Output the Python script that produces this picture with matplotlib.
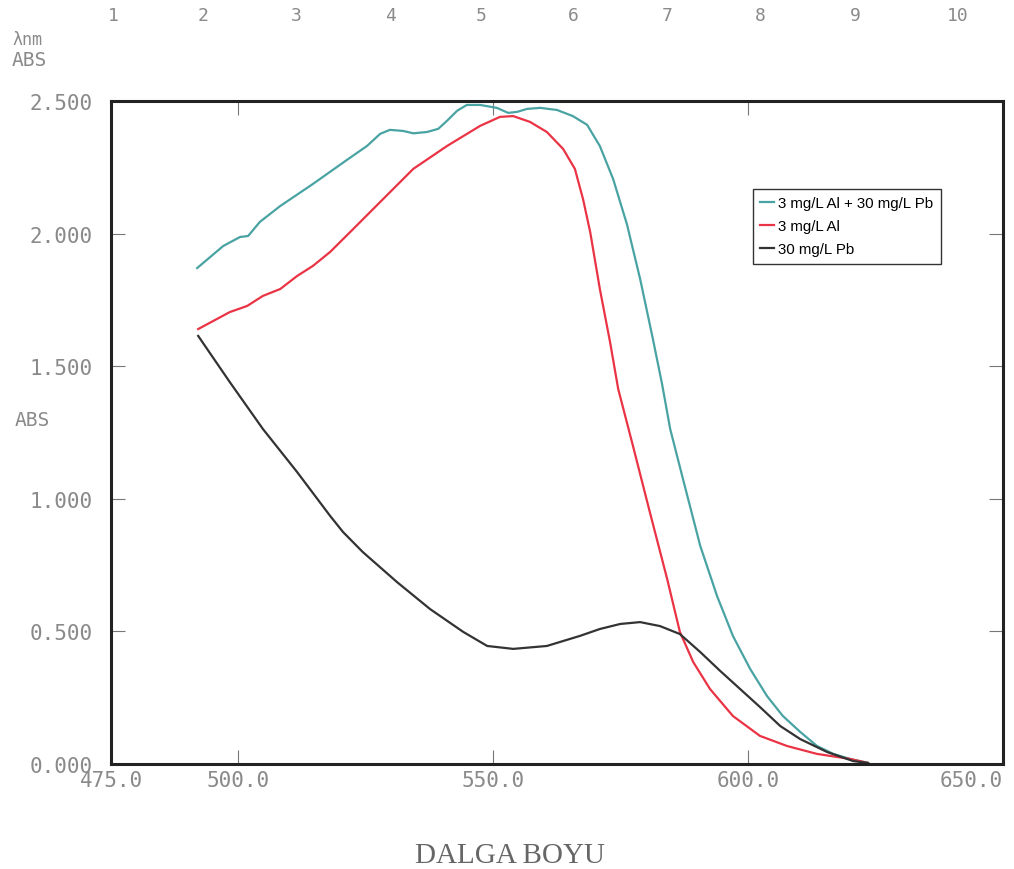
#!/usr/bin/env python3

import matplotlib
matplotlib.use("Agg")
import matplotlib.pyplot as plt

# wavelength (nm) / absorbance
nm_mix = [491.9, 497.0, 500.3, 501.9, 504.2, 508.2, 514.6, 521.3, 525.2, 527.8,
          529.7, 532.3, 534.3, 537.0, 539.2, 540.9, 542.9, 544.8, 547.4, 550.7,
          552.9, 554.7, 556.6, 559.2, 562.5, 565.6, 568.4, 570.9, 573.5, 576.2,
          578.8, 581.3, 583.1, 584.7, 587.2, 590.6, 593.9, 597.0, 600.4, 603.7,
          606.8, 610.2, 613.5, 616.7, 620.0, 623.5]
abs_mix = [1.870, 1.953, 1.987, 1.991, 2.044, 2.104, 2.187, 2.278, 2.330, 2.376,
           2.391, 2.387, 2.378, 2.383, 2.395, 2.425, 2.463, 2.485, 2.485, 2.474,
           2.455, 2.459, 2.470, 2.474, 2.466, 2.443, 2.410, 2.330, 2.206, 2.036,
           1.829, 1.603, 1.433, 1.263, 1.075, 0.822, 0.633, 0.483, 0.358, 0.256,
           0.181, 0.121, 0.068, 0.038, 0.019, 0.004]

nm_al = [492.1, 498.3, 501.7, 504.8, 508.2, 511.5, 514.6, 518.0, 522.5, 527.8,
         534.3, 540.9, 547.4, 551.3, 553.9, 557.2, 560.5, 563.7, 566.0, 567.6,
         569.0, 570.9, 572.9, 574.5, 577.4, 580.7, 584.1, 586.6, 589.2, 592.5,
         597.0, 602.3, 607.6, 613.5, 620.0, 623.5]
abs_al = [1.640, 1.704, 1.727, 1.765, 1.791, 1.840, 1.878, 1.931, 2.017, 2.119,
          2.244, 2.330, 2.406, 2.440, 2.443, 2.421, 2.383, 2.319, 2.244, 2.130,
          2.006, 1.791, 1.591, 1.414, 1.199, 0.950, 0.698, 0.498, 0.385, 0.283,
          0.181, 0.106, 0.068, 0.038, 0.019, 0.004]

nm_pb = [492.1, 498.3, 504.8, 511.5, 518.0, 520.5, 524.4, 531.1, 537.6, 544.1,
         548.8, 553.9, 560.5, 567.0, 570.9, 574.9, 578.8, 582.7, 586.6, 590.6,
         594.5, 598.4, 602.3, 606.3, 610.2, 615.5, 620.6, 623.5]
abs_pb = [1.614, 1.440, 1.263, 1.101, 0.935, 0.875, 0.799, 0.686, 0.584, 0.498,
          0.445, 0.434, 0.445, 0.483, 0.509, 0.528, 0.535, 0.520, 0.490, 0.422,
          0.351, 0.283, 0.215, 0.143, 0.094, 0.045, 0.011, 0.004]

labels = ["3 mg/L Al + 30 mg/L Pb", "3 mg/L Al", "30 mg/L Pb"]

x_ticks = [475, 500, 550, 600, 650]
y_ticks = [0.0, 0.5, 1.0, 1.5, 2.0, 2.5]
top_numbers = ["1", "2", "3", "4", "5", "6", "7", "8", "9", "10"]

grey = "#8a8a8a"
mono = "DejaVu Sans Mono"

fig = plt.figure(figsize=(10.14, 8.70), dpi=100)
ax = fig.add_axes([0.1095, 0.1207, 0.8797, 0.7621])

ax.plot(nm_mix, abs_mix, color="#4aa3a3", lw=1.6, label=labels[0])
ax.plot(nm_al, abs_al, color="#ea3344", lw=1.6, label=labels[1])
ax.plot(nm_pb, abs_pb, color="#333333", lw=1.6, label=labels[2])

ax.set_xlim(475, 650)
ax.set_ylim(0, 2.5)
ax.set_xticks(x_ticks)
ax.set_xticklabels(["%.1f" % v for v in x_ticks], fontfamily=mono,
                   fontsize=15, color=grey)
ax.set_yticks(y_ticks)
ax.set_yticklabels(["%.3f" % v for v in y_ticks], fontfamily=mono,
                   fontsize=15, color=grey)
xl = ax.get_xticklabels()
xl[-1].set_ha("right")
ax.tick_params(direction="in", top=True, right=True, length=10,
               width=0.8, color="#777777", pad=4)
ax.tick_params(axis="y", pad=13)

for s in ax.spines.values():
    s.set_linewidth(2.2)
    s.set_color("#222222")

leg = ax.legend(loc="upper left", bbox_to_anchor=(0.711, 0.879),
                prop={"family": "Liberation Sans", "size": 10.8},
                handlelength=0.9, handletextpad=0.3, labelspacing=0.6,
                borderpad=0.5, fancybox=False, framealpha=1,
                edgecolor="#333333")
leg.get_frame().set_linewidth(1.0)

# top row of numbers
top_x = [113, 203, 296, 390, 481, 573, 667, 760, 855, 958]
for lab, px in zip(top_numbers, top_x):
    fig.text(px / 1014, 1 - 16 / 870, lab, ha="center", va="center",
             fontfamily=mono, fontsize=13, color=grey)

fig.text(12 / 1014, 1 - 40 / 870, "λnm", ha="left", va="center",
         fontfamily=mono, fontsize=12, color=grey)
fig.text(12 / 1014, 1 - 61 / 870, "ABS", ha="left", va="center",
         fontfamily=mono, fontsize=14, color=grey)
fig.text(15 / 1014, 1 - 421 / 870, "ABS", ha="left", va="center",
         fontfamily=mono, fontsize=14, color=grey)
fig.text(510 / 1014, 1 - 856 / 870, "DALGA BOYU", ha="center", va="center",
         fontfamily="Liberation Serif", fontsize=21, color="#666666")

fig.savefig("out.png", dpi=100)
